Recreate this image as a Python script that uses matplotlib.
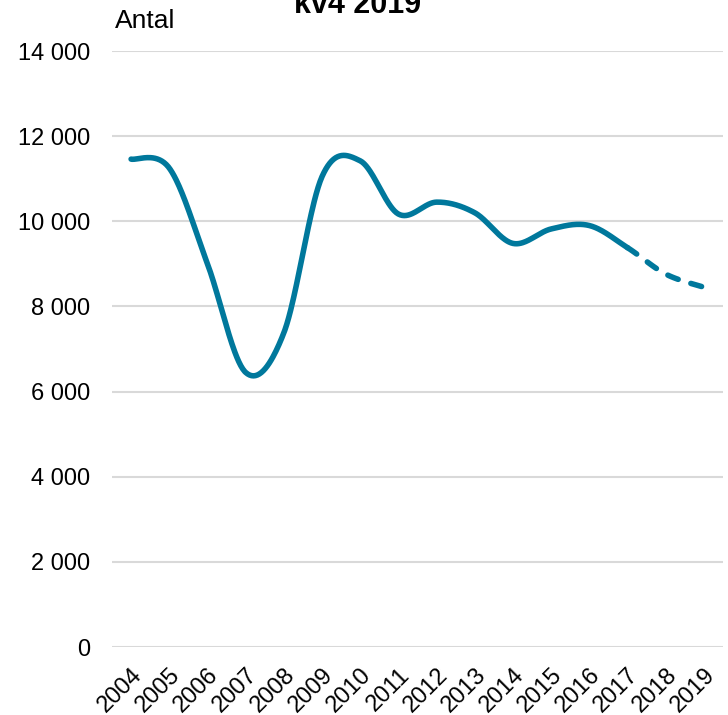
import numpy as np
import matplotlib.pyplot as plt
from matplotlib.ticker import FuncFormatter

plt.rcParams['font.family'] = ['Liberation Sans', 'DejaVu Sans']

# data
years = ['2004', '2005', '2006', '2007', '2008', '2009', '2010', '2011',
         '2012', '2013', '2014', '2015', '2016', '2017', '2018', '2019']
antal = [11460, 11250, 9000, 6450, 7380, 11050, 11420, 10170,
         10450, 10200, 9480, 9820, 9900, 9380, 8760, 8450]
last_solid = '2017'   # line is dashed after this year
title = 'kv4 2019'
y_label = 'Antal'

line_color = '#00789c'
grid_color = '#d9d9d9'


def smooth(xs, ys, n=40):
    # Excel-like smoothed line: Catmull-Rom as cubic Bezier segments
    xs = np.asarray(xs, float)
    ys = np.asarray(ys, float)
    px = np.concatenate([[xs[0]], xs, [xs[-1]]])
    py = np.concatenate([[ys[0]], ys, [ys[-1]]])
    out_x, out_y = [], []
    t = np.linspace(0, 1, n)
    for i in range(1, len(px) - 2):
        p0 = np.array([px[i], py[i]])
        p3 = np.array([px[i + 1], py[i + 1]])
        p1 = p0 + (p3 - np.array([px[i - 1], py[i - 1]])) / 6
        p2 = p3 - (np.array([px[i + 2], py[i + 2]]) - p0) / 6
        b = ((1 - t) ** 3)[:, None] * p0 + (3 * (1 - t) ** 2 * t)[:, None] * p1 \
            + (3 * (1 - t) * t ** 2)[:, None] * p2 + (t ** 3)[:, None] * p3
        if i > 1:
            b = b[1:]
        out_x.append(b[:, 0])
        out_y.append(b[:, 1])
    return np.concatenate(out_x), np.concatenate(out_y)


x = np.arange(len(years))
sx, sy = smooth(x, antal)
k = years.index(last_solid)

fig = plt.figure(figsize=(7.28, 7.15), dpi=100)
ax = fig.add_axes([112 / 728, 68 / 715, 611 / 728, 596 / 715])

solid = sx <= k
ax.plot(sx[solid], sy[solid], color=line_color, lw=4,
        solid_capstyle='round', solid_joinstyle='round', zorder=3)
dash = sx >= k
ln, = ax.plot(sx[dash], sy[dash], color=line_color, lw=4,
              dashes=(2.0, 2.4), zorder=3)
ln.set_dash_capstyle('round')

ax.set_xlim(-0.5, len(years) - 0.5)
ax.set_ylim(0, 14000)
ax.set_yticks(np.arange(0, 14001, 2000))
ax.yaxis.set_major_formatter(FuncFormatter(lambda v, p: f'{v:,.0f}'.replace(',', ' ')))
ax.set_xticks(x)
ax.set_xticklabels(years, rotation=45, ha='right', va='top',
                   rotation_mode='anchor', fontsize=17)
ax.tick_params(axis='y', length=0, pad=16, labelsize=17)
ax.tick_params(axis='x', length=0, pad=12)
ax.grid(axis='y', color=grid_color, lw=1.5)
ax.set_axisbelow(True)
for s in ax.spines.values():
    s.set_visible(False)

fig.text(115 / 728, 1 - 28 / 715, y_label, fontsize=19, ha='left', va='baseline')
fig.text(358 / 728, 1 - 13 / 715, title, fontsize=22, fontweight='bold',
         ha='center', va='baseline')

fig.savefig('out.png', dpi=100, facecolor='white')
